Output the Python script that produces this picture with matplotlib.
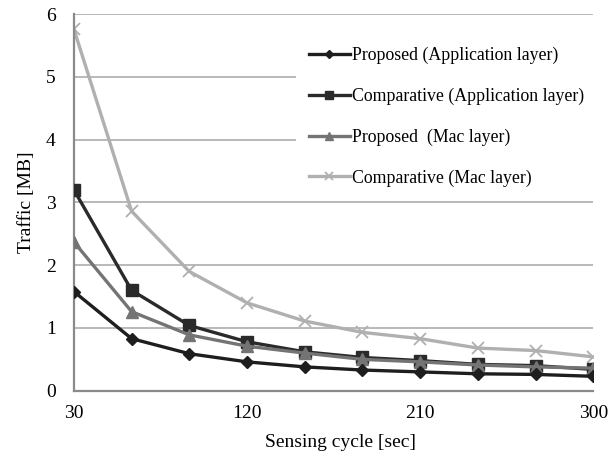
import numpy as np
import matplotlib
matplotlib.use("Agg")
import matplotlib.pyplot as plt

plt.rcParams['font.family'] = ['Liberation Serif', 'DejaVu Serif']

cycle = [30, 60, 90, 120, 150, 180, 210, 240, 270, 300]
prop_app = [1.58, 0.83, 0.59, 0.46, 0.38, 0.33, 0.30, 0.27, 0.26, 0.23]
comp_app = [3.20, 1.60, 1.04, 0.78, 0.62, 0.53, 0.48, 0.42, 0.40, 0.34]
prop_mac = [2.37, 1.26, 0.89, 0.71, 0.60, 0.50, 0.46, 0.41, 0.38, 0.36]
comp_mac = [5.76, 2.86, 1.90, 1.40, 1.11, 0.93, 0.83, 0.68, 0.64, 0.54]

fig = plt.figure(figsize=(6.16, 4.57), dpi=100)
ax = fig.add_axes([0.120, 0.145, 0.843, 0.824])

ax.plot(cycle, prop_app, color='#1e1e1e', lw=2.4, marker='D', ms=6.5,
        label='Proposed (Application layer)', zorder=4)
ax.plot(cycle, comp_app, color='#2a2a2a', lw=2.4, marker='s', ms=8,
        label='Comparative (Application layer)', zorder=3)
ax.plot(cycle, prop_mac, color='#747474', lw=2.4, marker='^', ms=9,
        label='Proposed  (Mac layer)', zorder=3.5)
ax.plot(cycle, comp_mac, color='#b0b0b0', lw=2.4, marker='x', ms=9, mew=1.3,
        label='Comparative (Mac layer)', zorder=2)

ax.set_xlim(30, 300)
ax.set_ylim(0, 6)
ax.set_xticks([30, 120, 210, 300])
ax.set_yticks(range(0, 7))
ax.grid(axis='y', color='#a6a6a6', lw=1.1)
ax.set_axisbelow(True)
for s in ['top', 'right']:
    ax.spines[s].set_visible(False)
for s in ['left', 'bottom']:
    ax.spines[s].set_color('#8a8a8a')
    ax.spines[s].set_linewidth(1.6)
ax.tick_params(length=0, labelsize=14, pad=10)
ax.tick_params(axis='y', pad=13)
ax.set_xlabel('Sensing cycle [sec]', fontsize=14)
ax.xaxis.set_label_coords(0.5125, -0.114)
ax.set_ylabel('Traffic [MB]', fontsize=14, labelpad=8)

leg = ax.legend(loc='upper right', bbox_to_anchor=(1.025, 0.972), fontsize=12.8,
                frameon=True, facecolor='white', edgecolor='none', framealpha=1,
                fancybox=False, handlelength=2.3, handletextpad=0.15,
                labelspacing=1.33, borderpad=0.73, markerscale=0.7)
leg.get_frame().set_linewidth(0)

fig.savefig('out.png', dpi=100)
